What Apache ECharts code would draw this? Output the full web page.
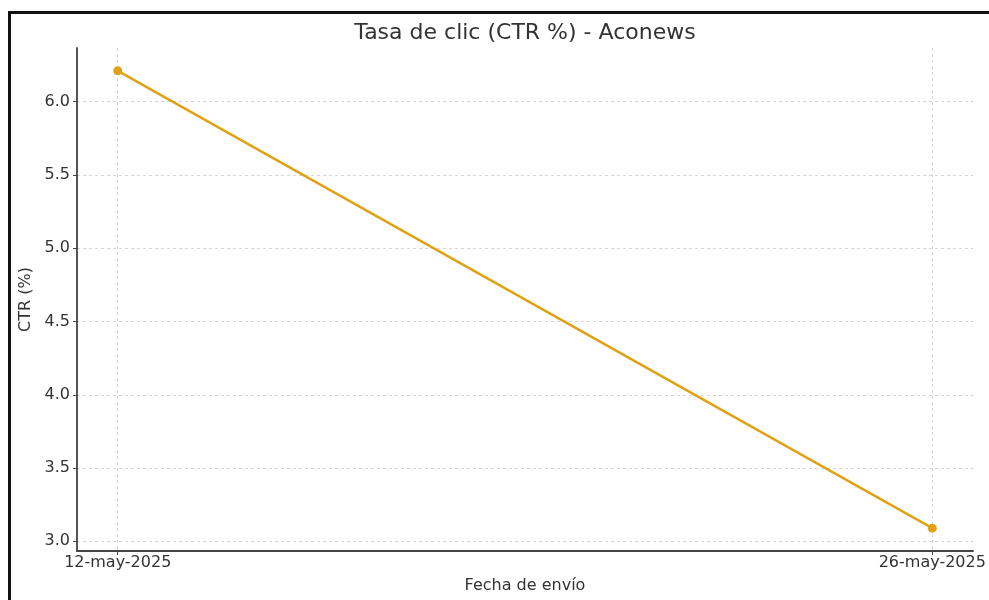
<!DOCTYPE html>
<html>
<head>
<meta charset="utf-8">
<script src="https://cdn.jsdelivr.net/npm/echarts@6/dist/echarts.min.js"></script>
<style>
  html, body { margin: 0; padding: 0; background: #fff; }
  #chart { width: 989px; height: 600px; }
</style>
</head>
<body>
<div id="chart"></div>
<script>
// Send dates and click-through rate per newsletter send
const sendDates = ['2025-05-12', '2025-05-26'];
const dateLabels = ['12-may-2025', '26-may-2025'];
const ctrValues = [6.21, 3.09];
const yTickValues = [3.0, 3.5, 4.0, 4.5, 5.0, 5.5, 6.0];

const FONT = '"DejaVu Sans", sans-serif';
const TEXT = '#333333';
const LINE_COLOR = '#e0a214';
const DAY = 86400000;

// Day offsets from the first send, used as x positions
const stamps = sendDates.map(d => Date.UTC(...d.split('-').map((n, i) => i === 1 ? n - 1 : +n)));
const days = stamps.map(t => Math.round((t - stamps[0]) / DAY));

// 5% padding on each side of the data range
const dSpan = days[days.length - 1] - days[0];
const xMin = days[0] - dSpan * 0.05;
const xMax = days[days.length - 1] + dSpan * 0.05;
const yLo = Math.min(...ctrValues), yHi = Math.max(...ctrValues);
const ySpan = yHi - yLo;
const yMin = yLo - ySpan * 0.05;
const yMax = yHi + ySpan * 0.05;

const gridLine = { show: true, lineStyle: { color: '#cccccc', type: [3, 3], width: 0.8 } };

const chart = echarts.init(document.getElementById('chart'), null, { renderer: 'canvas' });

chart.setOption({
  animation: false,
  backgroundColor: '#ffffff',
  title: {
    text: 'Tasa de clic (CTR %) - Aconews',
    left: 525,
    top: 22,
    textAlign: 'center',
    padding: 0,
    textStyle: { fontFamily: FONT, fontSize: 22, fontWeight: 'normal', color: TEXT }
  },
  grid: { left: 77, right: 16, top: 48, bottom: 49, containLabel: false },
  xAxis: {
    type: 'value',
    min: xMin,
    max: xMax,
    name: 'Fecha de envío',
    nameLocation: 'middle',
    nameGap: 27,
    nameTextStyle: { fontFamily: FONT, fontSize: 16, color: TEXT },
    axisLine: { show: true, onZero: false, lineStyle: { color: '#444444', width: 1.8 } },
    axisTick: { show: true, length: 4, customValues: days, lineStyle: { color: '#444444', width: 1 } },
    axisLabel: {
      customValues: days,
      margin: 4,
      fontFamily: FONT, fontSize: 16, color: TEXT,
      formatter: v => {
        const i = days.indexOf(v);
        return i >= 0 ? dateLabels[i] : '';
      }
    },
    splitLine: gridLine
  },
  yAxis: {
    type: 'value',
    min: yMin,
    max: yMax,
    name: 'CTR (%)',
    nameLocation: 'middle',
    nameGap: 39,
    nameTextStyle: { fontFamily: FONT, fontSize: 16, color: TEXT },
    axisLine: { show: true, onZero: false, lineStyle: { color: '#444444', width: 1.8 } },
    axisTick: { show: true, length: 4, customValues: yTickValues, lineStyle: { color: '#444444', width: 1 } },
    axisLabel: {
      customValues: yTickValues,
      margin: 7,
      fontFamily: FONT, fontSize: 16, color: TEXT,
      formatter: v => v.toFixed(1)
    },
    splitLine: gridLine
  },
  series: [{
    type: 'line',
    data: days.map((d, i) => [d, ctrValues[i]]),
    symbol: 'circle',
    symbolSize: 9,
    showSymbol: true,
    lineStyle: { color: LINE_COLOR, width: 2.4 },
    itemStyle: { color: LINE_COLOR }
  }],
  graphic: [
    { type: 'rect', shape: { x: 8, y: 11, width: 981, height: 3 }, style: { fill: '#111111' }, silent: true },
    { type: 'rect', shape: { x: 8, y: 11, width: 3, height: 589 }, style: { fill: '#111111' }, silent: true }
  ]
});
</script>
</body>
</html>
